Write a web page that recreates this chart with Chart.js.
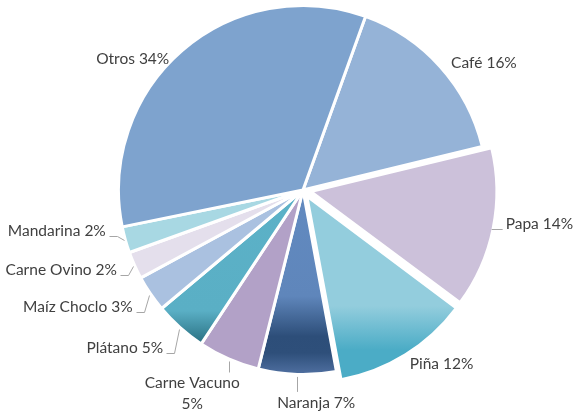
<!DOCTYPE html>
<html>
<head>
<meta charset="utf-8">
<script src="https://cdn.jsdelivr.net/npm/chart.js@4/dist/chart.umd.min.js"></script>
<style>
  html, body { margin: 0; padding: 0; background: #ffffff; }
  #wrap { width: 573px; height: 414px; }
</style>
</head>
<body>
<div id="wrap"><canvas id="c" width="573" height="414"></canvas></div>
<script>
// ---- Data ----
const categories = ['Café', 'Papa', 'Piña', 'Naranja', 'Carne Vacuno', 'Plátano', 'Maíz Choclo', 'Carne Ovino', 'Mandarina', 'Otros'];
const shares = [15.7, 14.0, 11.9, 6.8, 5.4, 4.6, 3.2, 2.4, 2.3, 33.7];

// ---- Styles ----
const R = 184.5;
const sliceFills = [
  '#95B3D7',
  '#CCC1DA',
  { stops: [[0, '#93CDDD'], [0.80, '#93CDDD'], [0.92, '#4BACC6'], [1, '#4BACC6']] },
  { stops: [[0, '#6791C8'], [0.79, '#5F86BB'], [0.90, '#2D4E79'], [0.945, '#2E4F7A'], [1, '#4D6D9E']] },
  '#B2A1C7',
  { stops: [[0, '#5EB5CB'], [0.83, '#5AAFC5'], [0.915, '#2B7385'], [1, '#2B7385']] },
  '#AAC1E0',
  '#E4DFEC',
  '#A8D8E3',
  '#7EA3CE'
];
// Chart.js draws an arc shifted by offset/4 * (2 - sin(circumference))
const sliceOffsets = [0, 31, 29, 0, 0, 0, 0, 0, 0, 0];
// label placement relative to the slice's outer mid point
const labelLayout = [
  { align: 'left',   dx: 12,  dy: -5,  leader: null },
  { align: 'left',   dx: 14,  dy: -4,  leader: 'h' },
  { align: 'left',   dx: 5,   dy: 10,  leader: null },
  { align: 'center', dx: 19,  dy: 30,  leader: 'v' },
  { align: 'center', dx: -37, dy: 26,  leader: 'v', wrap: true },
  { align: 'right',  dx: -18, dy: 21,  leader: 'elbow' },
  { align: 'right',  dx: -19, dy: 14,  leader: 'elbow' },
  { align: 'right',  dx: -19, dy: 5,   leader: 'elbow' },
  { align: 'right',  dx: -21, dy: -8,  leader: 'elbow' },
  { align: 'right',  dx: -14, dy: 7,   leader: null }
];
const FONT = '15.5px Lato';
const TEXT_COLOR = '#404040';
const LEADER_COLOR = '#A6A6A6';

function fillFor(ctx) {
  const spec = sliceFills[ctx.dataIndex];
  if (typeof spec === 'string') return spec;
  const ca = ctx.chart.chartArea;
  if (!ca) return spec.stops[0][1];
  const cy = (ca.top + ca.bottom) / 2;
  const g = ctx.chart.ctx.createLinearGradient(0, cy - R + 1.5, 0, cy + R - 1.5);
  spec.stops.forEach(([p, c]) => g.addColorStop(p, c));
  return g;
}

const labelPlugin = {
  id: 'outLabels',
  afterDatasetsDraw(chart) {
    const ctx = chart.ctx;
    const meta = chart.getDatasetMeta(0);
    const total = shares.reduce((a, b) => a + b, 0);
    ctx.save();
    ctx.font = FONT;
    ctx.fillStyle = TEXT_COLOR;
    ctx.textBaseline = 'middle';
    ctx.strokeStyle = LEADER_COLOR;
    ctx.lineWidth = 1;
    meta.data.forEach((arc, i) => {
      const p = arc.getProps(['x', 'y', 'startAngle', 'endAngle', 'outerRadius', 'circumference'], true);
      const o = (arc.options.offset || 0) / 4;
      const off = o * (2 - Math.sin(Math.min(Math.PI, p.circumference || 0)));
      const mid = (p.startAngle + p.endAngle) / 2;
      const cos = Math.cos(mid), sin = Math.sin(mid);
      const cx = p.x + cos * off, cy = p.y + sin * off;
      const redge = p.outerRadius - 1.5;
      const ex = cx + cos * redge, ey = cy + sin * redge;
      const L = labelLayout[i];
      const pct = Math.round(shares[i] / total * 100) + '%';
      const tx = ex + L.dx, ty = ey + L.dy;
      ctx.textAlign = L.align;
      let lines = L.wrap ? [categories[i], pct] : [categories[i] + ' ' + pct];
      lines.forEach((ln, k) => ctx.fillText(ln, tx, ty + k * 21));
      ctx.beginPath();
      if (L.leader === 'elbow') {
        const sx = cx + cos * (redge + 3), sy = cy + sin * (redge + 3);
        ctx.moveTo(Math.round(sx) + 0.5, Math.round(sy) + 0.5);
        ctx.lineTo(Math.round(tx + 11) + 0.5, Math.round(ty + 5) + 0.5);
        ctx.lineTo(Math.round(tx + 3) + 0.5, Math.round(ty + 5) + 0.5);
        ctx.stroke();
      } else if (L.leader === 'v') {
        const x = Math.round(ex) + 0.5;
        ctx.moveTo(x, ey + 4);
        ctx.lineTo(x, ty - 11);
        ctx.stroke();
      } else if (L.leader === 'h') {
        const y = Math.round(ty + 5) + 0.5;
        ctx.moveTo(ex, y);
        ctx.lineTo(tx - 3, y);
        ctx.stroke();
      }
    });
    ctx.restore();
  }
};

new Chart(document.getElementById('c'), {
  type: 'pie',
  data: {
    labels: categories,
    datasets: [{
      data: shares,
      backgroundColor: fillFor,
      borderColor: '#ffffff',
      borderWidth: 3,
      offset: sliceOffsets,
      hoverOffset: 0,
      radius: R
    }]
  },
  options: {
    responsive: false,
    animation: false,
    events: [],
    rotation: 19.8,
    layout: { padding: { left: 120, right: 87, top: 4, bottom: 38 } },
    plugins: { legend: { display: false }, tooltip: { enabled: false } }
  },
  plugins: [labelPlugin]
});
</script>
</body>
</html>
